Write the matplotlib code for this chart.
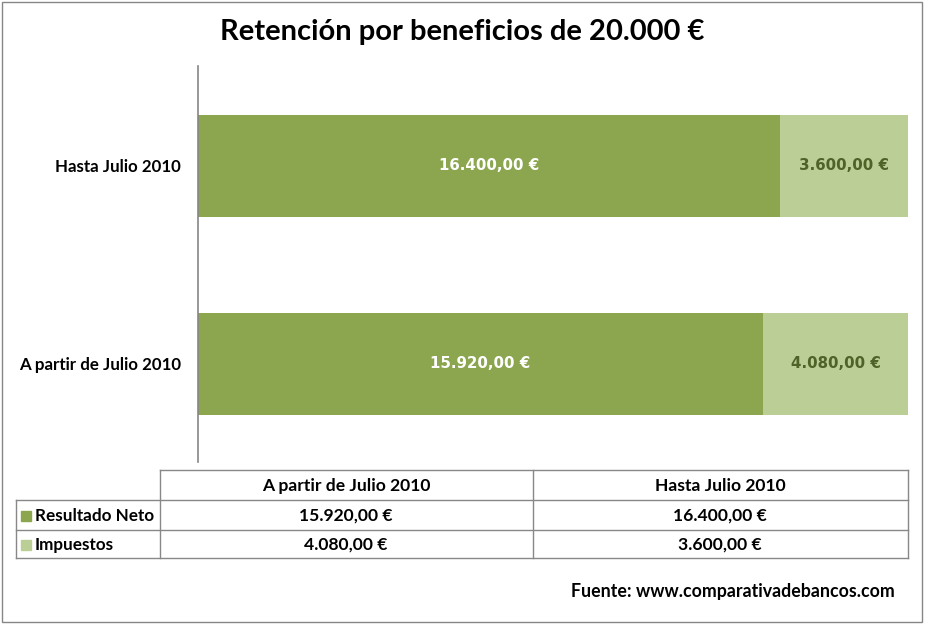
import matplotlib
matplotlib.use("Agg")
import matplotlib.pyplot as plt
from matplotlib.patches import Rectangle
from matplotlib.lines import Line2D

categories = ["A partir de Julio 2010", "Hasta Julio 2010"]
series_names = ["Resultado Neto", "Impuestos"]
neto = [15920, 16400]
impuestos = [4080, 3600]
colors = ["#8BA64F", "#BBCE96"]
title = "Retención por beneficios de 20.000 €"
source = "Fuente: www.comparativadebancos.com"

def fmt(v):
    s = f"{v:,.2f}"
    s = s.replace(",", "X").replace(".", ",").replace("X", ".")
    return s + " €"

W, H = 925, 625
fig = plt.figure(figsize=(W/100, H/100), dpi=100)
FONT = "Lato"

def fx(x): return x / W
def fy(y): return 1 - y / H

ax = fig.add_axes([fx(198), fy(462), fx(908) - fx(198), fy(66) - fy(462)])
ypos = list(range(len(categories)))
ax.barh(ypos, neto, height=0.515, color=colors[0], linewidth=0)
ax.barh(ypos, impuestos, left=neto, height=0.515, color=colors[1], linewidth=0)
ax.set_xlim(0, 20000)
ax.set_ylim(-0.495, 1.505)
for s in ["top", "right", "bottom"]:
    ax.spines[s].set_visible(False)
ax.spines["left"].set_color("#868686")
ax.spines["left"].set_linewidth(1.2)
ax.set_xticks([])
ax.set_yticks(ypos)
ax.set_yticklabels(categories, fontsize=12.2, fontweight="bold", family=FONT)
ax.tick_params(axis="y", length=0, pad=12)

for i in ypos:
    ax.text(neto[i] / 2, i, fmt(neto[i]), ha="center", va="center", color="white",
            fontsize=10.8, fontweight="bold", family="DejaVu Sans")
    ax.text(neto[i] + impuestos[i] / 2, i, fmt(impuestos[i]), ha="center", va="center",
            color="#4F6228", fontsize=10.8, fontweight="bold", family="DejaVu Sans")

fig.text(fx(462), fy(32), title, ha="center", va="center", fontsize=21,
         fontweight="bold", family=FONT)

# data table
lc = "#888888"
def hline(y, x0, x1):
    fig.add_artist(Line2D([fx(x0), fx(x1)], [fy(y), fy(y)], color=lc, lw=1))
def vline(x, y0, y1):
    fig.add_artist(Line2D([fx(x), fx(x)], [fy(y0), fy(y1)], color=lc, lw=1))

hline(470, 160, 908)
for y in (500, 530, 558):
    hline(y, 16, 908)
vline(16, 500, 558)
for x in (160, 533, 908):
    vline(x, 470, 558)

col_centers = [346, 720]
for c, name in zip(col_centers, categories):
    fig.text(fx(c), fy(486), name, ha="center", va="center", fontsize=12.6,
             fontweight="bold", family=FONT)
rows_y = [516, 545]
data_rows = [neto, impuestos]
for ry, name, col, vals in zip(rows_y, series_names, colors, data_rows):
    fig.add_artist(Rectangle((fx(21), fy(ry + 5)), fx(10), fy(0) - fy(10),
                             color=col, transform=fig.transFigure))
    fig.text(fx(35), fy(ry), name, ha="left", va="center", fontsize=12.3,
             fontweight="bold", family=FONT)
    for c, v in zip(col_centers, vals):
        fig.text(fx(c), fy(ry), fmt(v), ha="center", va="center", fontsize=12.6,
                 fontweight="bold", family=FONT)

fig.text(fx(895), fy(592), source, ha="right", va="center", fontsize=12.8,
         fontweight="bold", family=FONT)

fig.add_artist(Rectangle((fx(2), fy(622)), fx(920), fy(0) - fy(620), fill=False,
                         edgecolor="#868686", lw=1, transform=fig.transFigure))

fig.savefig("out.png", dpi=100)
